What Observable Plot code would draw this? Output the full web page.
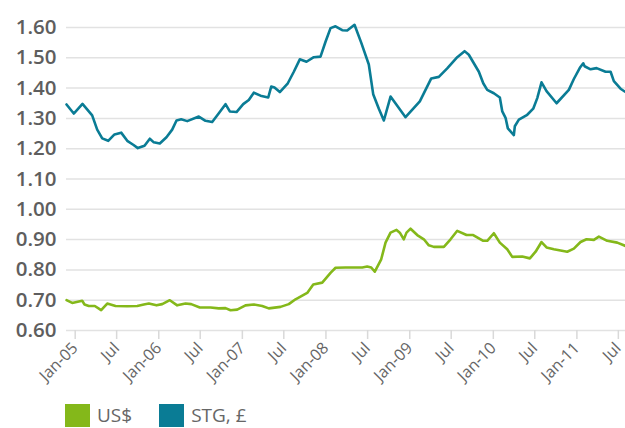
<!DOCTYPE html>
<html>
<head>
<meta charset="utf-8">
<script src="https://cdn.jsdelivr.net/npm/d3@7"></script>
<script src="https://cdn.jsdelivr.net/npm/@observablehq/plot@0.6"></script>
<style>
  html, body { margin: 0; padding: 0; background: #fff; }
  body { width: 625px; height: 428px; overflow: hidden; font-family: "Open Sans", "Noto Sans", sans-serif; }
  #chart svg { display: block; }
  #chart g[aria-label="x-axis tick"] path { stroke: #d9d9d9; stroke-width: 1.5; }
  .legend { display: flex; align-items: center; height: 26px; margin-top: 7px; padding-left: 65px; color: #666; font-size: 19px; line-height: 24px; }
  .legend .sw { width: 25px; height: 23px; margin-right: 7px; }
  .legend .item { display: flex; align-items: center; margin-right: 27px; }
</style>
</head>
<body>
<div id="chart"></div>
<div class="legend">
  <div class="item"><div class="sw" style="background:#84b81a"></div><span>US$</span></div>
  <div class="item"><div class="sw" style="background:#0a7c95"></div><span>STG, £</span></div>
</div>
<script>
// Months since Jan 2005 (fractional) and exchange-rate values
const stgMonths = [-0.67,0.37,1.62,3.01,3.73,4.45,5.31,6.21,7.17,8.04,8.90,9.56,10.52,11.28,11.85,12.71,13.67,14.49,15.11,15.78,16.65,18.31,19.27,20.23,21.18,22.14,22.76,23.72,24.68,25.48,26.20,27.16,28.27,28.70,29.17,29.93,31.08,31.94,32.80,33.76,34.81,35.77,36.49,37.21,37.92,38.89,39.60,40.65,41.61,42.70,43.33,44.14,44.86,45.82,47.97,50.02,51.66,52.75,53.95,55.39,56.44,57.05,58.49,59.12,59.69,60.64,61.50,61.85,62.32,62.65,63.51,63.65,64.23,65.43,66.29,66.87,67.48,68.20,69.64,71.40,72.12,72.98,73.47,73.66,74.52,75.38,76.67,77.39,77.86,78.82,79.53];
const stgValues = [1.346,1.316,1.348,1.310,1.263,1.234,1.226,1.247,1.253,1.226,1.213,1.202,1.210,1.233,1.221,1.217,1.238,1.263,1.293,1.297,1.291,1.306,1.292,1.288,1.317,1.347,1.323,1.321,1.347,1.361,1.385,1.375,1.369,1.405,1.402,1.387,1.416,1.454,1.495,1.487,1.502,1.504,1.553,1.598,1.604,1.591,1.590,1.609,1.550,1.478,1.380,1.332,1.293,1.372,1.304,1.356,1.432,1.437,1.465,1.502,1.522,1.510,1.454,1.416,1.394,1.383,1.369,1.323,1.302,1.267,1.245,1.274,1.296,1.312,1.332,1.367,1.419,1.390,1.350,1.394,1.430,1.467,1.482,1.472,1.462,1.466,1.454,1.454,1.423,1.398,1.387];

const usdMonths = [-0.67,0.14,1.58,1.91,2.53,3.39,4.30,5.17,6.36,8.04,9.47,10.42,11.14,12.24,13.06,14.15,15.21,16.40,17.22,18.45,19.99,21.18,22.14,22.86,23.82,25.01,26.20,27.41,28.35,30.03,31.22,32.19,33.86,34.73,36.02,37.21,37.93,39.36,40.08,41.76,42.47,43.05,43.56,44.48,45.10,45.82,46.68,47.15,47.72,48.11,48.69,49.65,50.60,51.31,52.03,53.47,54.43,55.39,56.72,57.68,59.12,59.69,60.64,61.50,62.56,63.28,64.72,65.81,66.63,67.48,68.20,69.25,71.17,72.12,73.08,73.94,74.99,75.71,76.91,78.35,79.53];
const usdValues = [0.700,0.691,0.698,0.686,0.681,0.681,0.667,0.689,0.681,0.680,0.681,0.686,0.689,0.683,0.687,0.700,0.683,0.689,0.687,0.676,0.676,0.673,0.674,0.667,0.669,0.683,0.686,0.681,0.673,0.678,0.687,0.703,0.724,0.752,0.758,0.790,0.807,0.808,0.808,0.808,0.811,0.808,0.794,0.835,0.890,0.923,0.932,0.923,0.901,0.923,0.936,0.915,0.901,0.881,0.876,0.876,0.901,0.929,0.915,0.915,0.896,0.896,0.921,0.890,0.868,0.843,0.844,0.838,0.860,0.892,0.874,0.868,0.860,0.870,0.892,0.901,0.899,0.910,0.896,0.890,0.879];

const yTicks = [0.60,0.70,0.80,0.90,1.00,1.10,1.20,1.30,1.40,1.50,1.60];
const xTickLabels = ["Jan-05","Jul","Jan-06","Jul","Jan-07","Jul","Jan-08","Jul","Jan-09","Jul","Jan-10","Jul","Jan-11","Jul"];

const base = Date.UTC(2005, 0, 1);
const toDate = m => new Date(base + m * 30.4375 * 864e5);

const stg = stgMonths.map((m, i) => ({date: toDate(m), value: stgValues[i]}));
const usd = usdMonths.map((m, i) => ({date: toDate(m), value: usdValues[i]}));
const xTicks = xTickLabels.map((_, i) => new Date(Date.UTC(2005, i * 6, 1)));

const chart = Plot.plot({
  width: 625,
  height: 395,
  marginLeft: 66,
  marginRight: 0,
  marginTop: 27,
  marginBottom: 65,
  style: {fontFamily: '"Open Sans", "Noto Sans", sans-serif', color: "#666", background: "#fff"},
  x: {type: "utc", domain: [toDate(-0.674), toDate(79.53)]},
  y: {domain: [0.6, 1.6]},
  marks: [
    Plot.ruleY(yTicks, {stroke: "#e2e2e2", strokeWidth: 1.5}),
    Plot.axisY({ticks: yTicks, tickSize: 0, tickPadding: 10, tickFormat: d3.format(".2f"), fontSize: 20.5, fontWeight: 600, fill: "#5e5e5e", label: null}),
    Plot.axisX({ticks: xTicks, tickSize: 9, tickPadding: 6, tickRotate: -45, fontSize: 16, fill: "#666", dx: 4,
      tickFormat: (d, i) => xTickLabels[i], label: null}),
    Plot.line(usd, {x: "date", y: "value", stroke: "#84b81a", strokeWidth: 2.6}),
    Plot.line(stg, {x: "date", y: "value", stroke: "#0a7c95", strokeWidth: 2.6})
  ]
});
document.getElementById("chart").append(chart);
</script>
</body>
</html>
